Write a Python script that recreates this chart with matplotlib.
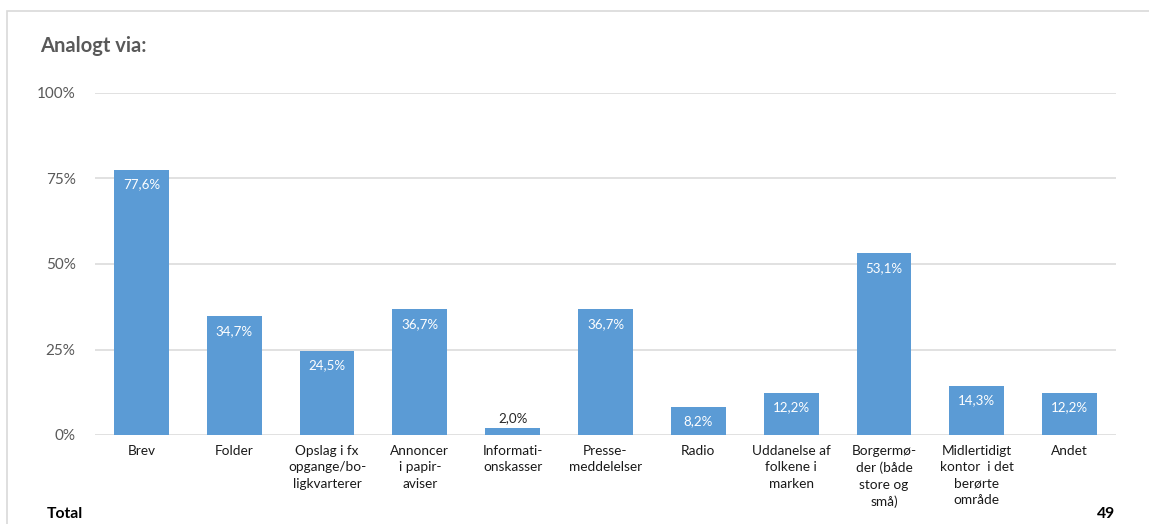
import matplotlib.pyplot as plt
from matplotlib.patches import Rectangle

plt.rcParams['font.family'] = ['Lato', 'DejaVu Sans']

categories = ['Brev', 'Folder', 'Opslag i fx\nopgange/bo-\nligkvarterer', 'Annoncer\ni papir-\naviser',
              'Informati-\nonskasser', 'Presse-\nmeddelelser', 'Radio', 'Uddanelse af\nfolkene i\nmarken',
              'Borgermø-\nder (både\nstore og\nsmå)', 'Midlertidigt\nkontor  i det\nberørte\nområde', 'Andet']
values = [77.6, 34.7, 24.5, 36.7, 2.0, 36.7, 8.2, 12.2, 53.1, 14.3, 12.2]
yticks = [0, 25, 50, 75, 100]
total_n = 49

W, H = 1149, 524
fig = plt.figure(figsize=(W / 100, H / 100), dpi=100)

# outer frame
fig.patches.append(Rectangle((7 / W, -0.1), 1.2, 1 - 11 / H + 0.1, transform=fig.transFigure,
                             fill=False, edgecolor='#d9d9d9', linewidth=1.2))

ax = fig.add_axes([95 / W, 1 - 435 / H, (1116 - 95) / W, (435 - 93) / H])
x = range(len(categories))
ax.bar(x, values, width=0.59, color='#5b9bd5', zorder=3)
ax.set_xlim(-0.5, len(categories) - 0.5)
ax.set_ylim(0, 100)
ax.set_yticks(yticks)
ax.set_yticklabels([f'{t}%' for t in yticks], color='#595959', fontsize=11)
ax.yaxis.grid(True, color='#d9d9d9', linewidth=1.1, zorder=0)
for s in ax.spines.values():
    s.set_visible(False)
ax.tick_params(axis='y', length=0, pad=14)
ax.tick_params(axis='x', length=0, pad=7)
ax.set_xticks(list(x))
ax.set_xticklabels(categories, fontsize=9.8, color='#1a1a1a', linespacing=1.45, va='top')

for i, v in enumerate(values):
    lab = f'{v:.1f}%'.replace('.', ',')
    if v < 5:
        ax.annotate(lab, (i, v), xytext=(0, 3), textcoords='offset points',
                    ha='center', va='bottom', fontsize=9.6, color='#262626')
    else:
        ax.annotate(lab, (i, v), xytext=(0, -6), textcoords='offset points',
                    ha='center', va='top', fontsize=9.6, color='white')

fig.text(40 / W, 1 - 46 / H, 'Analogt via:', fontsize=14.5, fontweight='bold',
         color='#595959', va='center', ha='left')
fig.text(47 / W, 1 - 514 / H, 'Total', fontsize=11.3, fontweight='bold', va='center', ha='left')
fig.text(1115 / W, 1 - 514 / H, str(total_n), fontsize=11.3, fontweight='bold', va='center', ha='right')

fig.savefig('out.png', dpi=100)
